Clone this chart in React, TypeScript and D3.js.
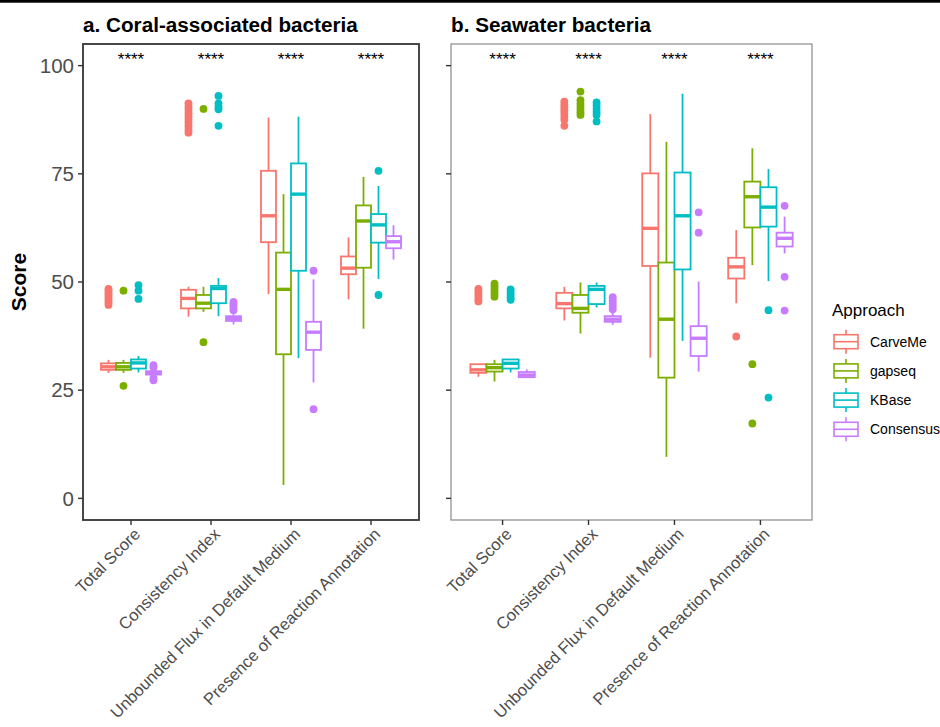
import React from 'react';
import * as d3 from 'd3';

const metrics = ['Total Score', 'Consistency Index', 'Unbounded Flux in Default Medium', 'Presence of Reaction Annotation'];
const approaches = ['CarveMe', 'gapseq', 'KBase', 'Consensus'];
const approachColors = ['#F8766D', '#7CAE00', '#00BFC4', '#C77CFF'];
const yTicks = [0, 25, 50, 75, 100];

// box stats per metric: [lower whisker, q1, median, q3, upper whisker]
const coralCarveMe = [[29.0, 29.7, 30.4, 31.2, 32.0], [42.0, 43.9, 46.2, 48.2, 48.9], [47.2, 59.2, 65.3, 75.7, 88.0], [46.0, 51.8, 53.2, 55.9, 60.3]];
const coralGapseq = [[29.0, 29.7, 30.4, 31.3, 32.0], [43.1, 43.9, 45.1, 47.0, 48.9], [3.1, 33.3, 48.3, 56.8, 70.3], [39.2, 53.3, 64.1, 67.7, 74.3]];
const coralKBase = [[29.1, 30.0, 31.3, 32.1, 32.9], [42.1, 45.1, 48.5, 49.1, 50.9], [32.4, 52.6, 70.3, 77.4, 88.2], [50.7, 59.1, 63.2, 65.7, 72.2]];
const coralConsensus = [[28.2, 28.6, 29.0, 29.4, 29.8], [40.2, 41.0, 41.6, 42.1, 42.8], [26.8, 34.3, 38.4, 40.8, 50.6], [55.2, 57.8, 59.3, 60.6, 63.1]];

const coralCarveMeOut = [[44.7, 45.2, 45.8, 46.3, 46.9, 47.4, 48.0, 48.4], [84.5, 85.2, 86.0, 86.8, 87.5, 88.3, 89.0, 89.8, 90.5, 91.3], [], []];
const coralGapseqOut = [[26.0, 48.0], [36.1, 90.0], [], []];
const coralKBaseOut = [[46.1, 48.0, 49.3], [86.1, 89.9, 90.5, 91.3, 93.0], [], [47.0, 75.7]];
const coralConsensusOut = [[27.3, 27.8, 30.3, 30.8], [43.5, 44.0, 44.5, 45.0, 45.4], [20.6, 52.6], []];

const seaCarveMe = [[28.1, 29.0, 29.7, 31.0, 31.0], [41.1, 43.9, 45.0, 47.5, 48.9], [32.5, 53.7, 62.4, 75.1, 88.8], [45.1, 50.8, 53.5, 55.6, 62.0]];
const seaGapseq = [[27.0, 29.3, 30.2, 31.0, 32.0], [38.1, 42.9, 43.9, 47.0, 49.9], [9.6, 27.9, 41.4, 54.5, 82.4], [53.9, 62.6, 69.7, 73.2, 80.9]];
const seaKBase = [[29.1, 30.0, 31.2, 32.1, 32.1], [44.1, 44.9, 48.3, 49.1, 49.9], [36.4, 52.9, 65.3, 75.3, 93.5], [50.2, 62.8, 67.3, 71.9, 76.1]];
const seaConsensus = [[28.0, 28.0, 28.5, 29.2, 29.8], [40.1, 40.8, 41.4, 42.1, 42.9], [29.3, 32.9, 37.0, 39.8, 50.1], [56.6, 58.2, 60.1, 61.4, 65.1]];

const seaCarveMeOut = [[45.5, 46.0, 46.6, 47.2, 47.8, 48.4], [86.1, 87.5, 88.2, 89.0, 89.7, 90.4, 91.0, 91.7], [], [37.4]];
const seaGapseqOut = [[46.6, 47.2, 47.8, 48.4, 49.0, 49.6], [88.6, 89.2, 89.8, 90.5, 91.2, 92.0, 94.0], [], [17.3, 31.0]];
const seaKBaseOut = [[45.9, 46.5, 47.1, 47.7, 48.3], [87.1, 88.6, 89.3, 90.0, 90.8, 91.5], [], [23.3, 43.5]];
const seaConsensusOut = [[], [43.7, 44.4, 45.1, 45.8, 46.5], [61.4, 66.1], [43.4, 51.2, 67.6]];

const sigLabels = ['****', '****', '****', '****'];

const panelTop = 44;
const panelBottom = 520;
const font = 'Liberation Sans, Arial, sans-serif';

const y = d3.scaleLinear().domain([-5, 105]).range([panelBottom, panelTop]);

interface PanelProps {
  title: string;
  left: number;
  right: number;
  boxes: number[][][];
  outliers: number[][][];
  showLabels: boolean;
  border: string;
  borderWidth: number;
}

const Panel: React.FC<PanelProps> = ({ title, left, right, boxes, outliers, showLabels, border, borderWidth }) => {
  const x = d3.scaleBand<string>().domain(metrics).range([left, right]).paddingInner(0).paddingOuter(0.1);
  const step = x.bandwidth();
  const dodge = d3.scaleBand<string>().domain(approaches).range([-0.375 * step, 0.375 * step]).padding(0);
  const bw = dodge.bandwidth();

  return (
    <g>
      <text x={left} y={32} fontFamily={font} fontWeight="bold" fontSize={20.7} fill="#000">{title}</text>

      {/* boxes */}
      {metrics.map((m, mi) => (
        <g key={m}>
          {approaches.map((a, ai) => {
            const s = boxes[ai][mi];
            const cx = x(m)! + step / 2 + dodge(a)! + bw / 2;
            const col = approachColors[ai];
            return (
              <g key={a}>
                <line x1={cx} x2={cx} y1={y(s[4])} y2={y(s[3])} stroke={col} strokeWidth={1.8} />
                <line x1={cx} x2={cx} y1={y(s[1])} y2={y(s[0])} stroke={col} strokeWidth={1.8} />
                <rect x={cx - bw / 2} y={y(s[3])} width={bw} height={Math.max(y(s[1]) - y(s[3]), 0.5)}
                  fill="#fff" stroke={col} strokeWidth={1.8} />
                <line x1={cx - bw / 2} x2={cx + bw / 2} y1={y(s[2])} y2={y(s[2])} stroke={col} strokeWidth={3.4} />
                {outliers[ai][mi].map((v, i) => (
                  <circle key={i} cx={cx} cy={y(v)} r={3.9} fill={col} />
                ))}
              </g>
            );
          })}
          <text x={x(m)! + step / 2} y={65} textAnchor="middle" fontFamily={font} fontSize={17} fill="#000">{sigLabels[mi]}</text>
        </g>
      ))}

      <rect x={left} y={panelTop} width={right - left} height={panelBottom - panelTop} fill="none" stroke={border} strokeWidth={borderWidth} />

      {/* y axis */}
      {yTicks.map(t => (
        <g key={t}>
          <line x1={left - 5} x2={left} y1={y(t)} y2={y(t)} stroke="#333" strokeWidth={1.4} />
          {showLabels && (
            <text x={left - 9} y={y(t)} dy="0.35em" textAnchor="end" fontFamily={font} fontSize={20.5} fill="#4D4D4D">{t}</text>
          )}
        </g>
      ))}

      {/* x axis */}
      {metrics.map(m => {
        const cx = x(m)! + step / 2;
        return (
          <g key={m}>
            <line x1={cx} x2={cx} y1={panelBottom} y2={panelBottom + 5} stroke="#333" strokeWidth={1.4} />
            <text transform={`translate(${cx + 2},${panelBottom + 7}) rotate(-45)`} dy="0.7em" textAnchor="end"
              fontFamily={font} fontSize={16.6} fill="#4D4D4D">{m}</text>
          </g>
        );
      })}
    </g>
  );
};

const App: React.FC = () => {
  const legendY = d3.scalePoint<string>().domain(approaches).range([341.7, 429.3]);
  return (
    <svg width={940} height={727} style={{ position: 'absolute', left: 0, top: 0, background: '#fff' }}>
      <rect x={0} y={0} width={940} height={727} fill="#fff" />
      <rect x={0} y={0} width={940} height={2.7} fill="#000" />

      <text transform="translate(26,282) rotate(-90)" textAnchor="middle" fontFamily={font} fontWeight="bold" fontSize={21} fill="#000">Score</text>

      <Panel title="a. Coral-associated bacteria" left={83} right={419}
        boxes={[coralCarveMe, coralGapseq, coralKBase, coralConsensus]}
        outliers={[coralCarveMeOut, coralGapseqOut, coralKBaseOut, coralConsensusOut]}
        showLabels={true} border="#333" borderWidth={1.8} />
      <Panel title="b. Seawater bacteria" left={451} right={812}
        boxes={[seaCarveMe, seaGapseq, seaKBase, seaConsensus]}
        outliers={[seaCarveMeOut, seaGapseqOut, seaKBaseOut, seaConsensusOut]}
        showLabels={false} border="#8a8a8a" borderWidth={1.2} />

      {/* legend */}
      <text x={832} y={316} fontFamily={font} fontSize={17} fill="#000">Approach</text>
      {approaches.map((a, i) => {
        const cy = legendY(a)!;
        const col = approachColors[i];
        return (
          <g key={a}>
            <line x1={846} x2={846} y1={cy - 12} y2={cy + 12} stroke={col} strokeWidth={1.6} />
            <rect x={834} y={cy - 7} width={24} height={14} fill="#fff" stroke={col} strokeWidth={1.6} />
            <line x1={834} x2={858} y1={cy} y2={cy} stroke={col} strokeWidth={1.6} />
            <text x={870} y={cy} dy="0.35em" fontFamily={font} fontSize={14} fill="#000">{a}</text>
          </g>
        );
      })}
    </svg>
  );
};

export default App;
